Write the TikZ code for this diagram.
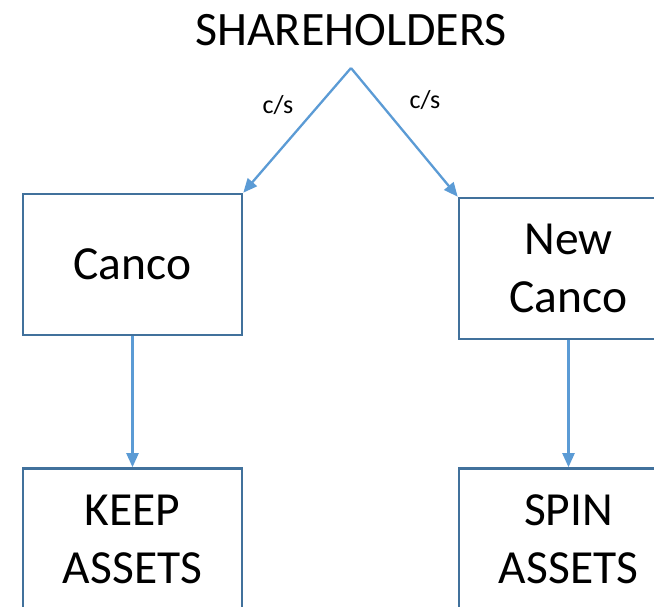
\documentclass[tikz,border=0pt]{standalone}
\usepackage{fontspec}
\setmainfont{Carlito}
\usetikzlibrary{arrows.meta}
\definecolor{boxline}{HTML}{41719C}
\definecolor{arrowline}{HTML}{5B9BD5}
\tikzset{
  entity/.style={draw=boxline, line width=2.6pt, minimum width=219pt, minimum height=141pt,
    align=center, inner sep=0pt, font=\fontsize{47.5}{58}\selectfont},
  flow/.style={draw=arrowline, line width=2.3pt, -{Triangle[length=14pt,width=12pt]}},
  share/.style={font=\fontsize{26}{30}\selectfont}
}
\begin{document}
\begin{tikzpicture}[x=1pt, y=-1pt]
  \useasboundingbox (0,0) rectangle (654,607);
  \clip (0,0) rectangle (654,607);
  \fill[white] (0,0) rectangle (654,607);

  % top level
  \node[font=\fontsize{48}{58}\selectfont, anchor=base] (holders) at (351,46) {SHAREHOLDERS};
  \coordinate (apex) at (351,68);

  % companies
  \node[entity] (canco) at (132.5,264.5) {Canco};
  \node[entity] (newco) at (568.5,268.5) {New\\Canco};

  % asset pools
  \node[entity] (keep) at (132.5,539) {KEEP\\ASSETS};
  \node[entity] (spin) at (568.5,539) {SPIN\\ASSETS};

  % share flows
  \draw[flow] (apex) -- (canco.north east);
  \draw[flow] (apex) -- (newco.north west);
  \node[share] (csl) at (278,105) {c/s};
  \node[share] (csr) at (425,100) {c/s};

  % asset transfers
  \draw[flow] (canco.south) -- (keep.north);
  \draw[flow] (newco.south) -- (spin.north);
\end{tikzpicture}
\end{document}
